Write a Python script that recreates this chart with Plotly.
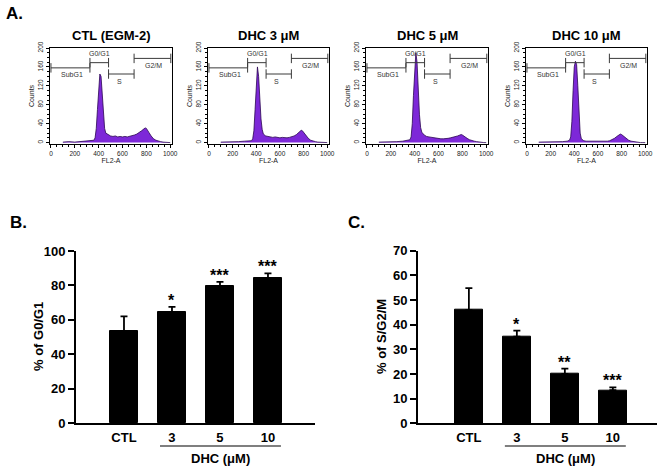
import plotly.graph_objects as go

# ---------------- Panel A data (flow cytometry histograms) ----------------
channels = [100, 150, 200, 250, 300, 340, 360, 370, 380, 390, 400, 410, 420, 430, 440,
            450, 460, 480, 500, 520, 540, 560, 580, 600, 620, 640, 660, 680, 700, 720,
            740, 760, 780, 790, 800, 810, 820, 840, 860, 880, 900, 920, 940, 960, 980, 1000]

hist_titles = ["CTL (EGM-2)", "DHC 3 μM", "DHC 5 μM", "DHC 10 μM"]

counts_ctl = [1, 2, 1, 2, 3, 3, 5, 10, 30, 70, 115, 145, 140, 95, 55,
              30, 20, 16, 14, 13, 14, 12, 13, 12, 13, 12, 13, 14, 16, 18,
              21, 25, 29, 31, 30, 27, 22, 14, 8, 5, 3, 2, 1, 1, 0, 0]
counts_dhc3 = [1, 1, 2, 2, 3, 3, 4, 8, 25, 70, 125, 160, 140, 90, 50,
               28, 18, 14, 13, 12, 11, 12, 11, 10, 11, 10, 10, 11, 12, 14,
               17, 21, 26, 25, 22, 18, 14, 9, 5, 3, 2, 1, 1, 0, 0, 0]
counts_dhc5 = [1, 1, 2, 2, 3, 4, 6, 12, 40, 100, 165, 190, 170, 110, 60,
               32, 22, 16, 13, 12, 11, 10, 9, 9, 8, 8, 8, 9, 10, 11,
               12, 14, 16, 17, 16, 14, 12, 9, 6, 4, 3, 2, 1, 0, 0, 0]
counts_dhc10 = [1, 1, 2, 2, 2, 3, 5, 12, 45, 110, 160, 172, 165, 120, 60,
                20, 8, 4, 3, 3, 3, 2, 2, 2, 2, 2, 3, 3, 4, 6,
                9, 13, 16, 18, 17, 15, 13, 8, 5, 3, 2, 1, 1, 0, 0, 0]
hist_counts = [counts_ctl, counts_dhc3, counts_dhc5, counts_dhc10]

gate_names = ["SubG1", "G0/G1", "S", "G2/M"]
gate_start = [0, 327, 483, 697]
gate_end = [327, 483, 697, 1005]
gate_level = [158, 169, 145, 178]
gate_label_x = [174, 409, 573, 858]
gate_label_y = [143, 189, 129, 164]

# ---------------- Panels B and C data ----------------
categories = ["CTL", "3", "5", "10"]
g0g1_mean = [53.5, 64.5, 79.5, 84.2]
g0g1_err = [8.5, 3.0, 2.5, 2.8]
g0g1_sig = ["", "*", "***", "***"]
sg2m_mean = [45.9, 35.1, 20.0, 13.4]
sg2m_err = [8.9, 2.5, 2.2, 1.2]
sg2m_sig = ["", "*", "**", "***"]

W, H = 660, 468
FONT = "Liberation Sans, Arial, sans-serif"

def px_x(p):
    return p / W

def px_y(p):
    return 1 - p / H

fig = go.Figure()

hist_dom_x = [(50, 172), (208, 329), (366, 488), (526, 647)]
hist_dom_y = (48, 144)

annotations = []
shapes = []

for i in range(4):
    xa = f"x{i+1}" if i > 0 else "x"
    ya = f"y{i+1}" if i > 0 else "y"
    fig.add_trace(go.Scatter(
        x=channels, y=hist_counts[i], mode="lines", fill="tozeroy",
        fillcolor="#7d28d8", line=dict(color="#2b0652", width=0.8),
        xaxis=xa, yaxis=ya, showlegend=False, hoverinfo="skip"))
    # gate markers
    gx, gy = [], []
    for s, e, lv in zip(gate_start, gate_end, gate_level):
        gx += [s, e, None, s, s, None, e, e, None]
        gy += [lv, lv, None, lv - 10, lv + 10, None, lv - 10, lv + 10, None]
    fig.add_trace(go.Scatter(
        x=gx, y=gy, mode="lines", line=dict(color="#3a3a3a", width=1),
        xaxis=xa, yaxis=ya, showlegend=False, hoverinfo="skip"))
    for name, lx, ly in zip(gate_names, gate_label_x, gate_label_y):
        annotations.append(dict(x=lx, y=ly, xref=xa, yref=ya, text=name, showarrow=False,
                                xanchor="center", yanchor="middle",
                                font=dict(family=FONT, size=7, color="#333333")))
    d0, d1 = hist_dom_x[i]
    axkey = "xaxis" if i == 0 else f"xaxis{i+1}"
    aykey = "yaxis" if i == 0 else f"yaxis{i+1}"
    fig.layout[axkey] = dict(
        domain=[px_x(d0), px_x(d1)], range=[-8, 1015], anchor=ya, automargin=False,
        showline=True, linecolor="black", linewidth=1, mirror=True,
        ticks="outside", ticklen=3, tickcolor="black", tickwidth=1,
        tickvals=[0, 200, 400, 600, 800, 1000],
        tickfont=dict(family=FONT, size=6.5, color="#222"),
        minor=dict(ticks="outside", ticklen=2, dtick=50, tickcolor="black"),
        showgrid=False, zeroline=False,
        title=dict(text="FL2-A", font=dict(family=FONT, size=7, color="#222"), standoff=0))
    fig.layout[aykey] = dict(
        domain=[px_y(hist_dom_y[1]), px_y(hist_dom_y[0])], range=[-3, 200], anchor=xa,
        automargin=False,
        showline=True, linecolor="black", linewidth=1, mirror=True,
        ticks="outside", ticklen=3, tickcolor="black", tickwidth=1,
        tickvals=[0, 40, 80, 120, 160, 200], tickangle=-90,
        tickfont=dict(family=FONT, size=6.5, color="#222"),
        minor=dict(ticks="outside", ticklen=2, dtick=10, tickcolor="black"),
        showgrid=False, zeroline=False,
        title=dict(text="Counts", font=dict(family=FONT, size=7, color="#222"), standoff=1))
    annotations.append(dict(x=px_x((d0 + d1) / 2), y=px_y(hist_dom_y[0] - 3),
                            xref="paper", yref="paper", text="<b>" + hist_titles[i] + "</b>",
                            showarrow=False, xanchor="center", yanchor="bottom",
                            font=dict(family=FONT, size=13, color="black")))

# ---------------- Bar panels ----------------
def bar_panel(idx, means, errs, sigs, xdom, ydom, yrange, dtick, xrange, ytitle, ytitle_x):
    xa, ya = f"x{idx}", f"y{idx}"
    fig.add_trace(go.Bar(
        x=list(range(len(categories))), y=means, width=0.58,
        marker=dict(color="black", line=dict(color="black", width=1)),
        error_y=dict(type="data", array=errs, arrayminus=[0] * len(errs), symmetric=False,
                     color="black", thickness=1.8, width=3.5),
        xaxis=xa, yaxis=ya, showlegend=False, hoverinfo="skip"))
    fig.layout[f"xaxis{idx}"] = dict(
        domain=[px_x(xdom[0]), px_x(xdom[1])], range=xrange, anchor=ya, automargin=False,
        showline=True, linecolor="black", linewidth=2,
        tickvals=list(range(len(categories))), ticktext=categories,
        ticks="outside", ticklen=1, tickcolor="rgba(0,0,0,0)",
        tickfont=dict(family=FONT, size=13, color="black", weight="bold"),
        showgrid=False, zeroline=False)
    fig.layout[f"yaxis{idx}"] = dict(
        domain=[px_y(ydom[1]), px_y(ydom[0])], range=yrange, anchor=xa, automargin=False,
        showline=True, linecolor="black", linewidth=2,
        ticks="outside", ticklen=6, tickwidth=2, tickcolor="black", dtick=dtick,
        tickfont=dict(family=FONT, size=13, color="black", weight="bold"),
        showgrid=False, zeroline=False)
    for i, (m, e, s) in enumerate(zip(means, errs, sigs)):
        if s:
            annotations.append(dict(x=i, y=m + e, xref=xa, yref=ya, text="<b>" + s + "</b>",
                                    showarrow=False, xanchor="center", yanchor="bottom",
                                    yshift=-4,
                                    font=dict(family=FONT, size=16, color="black")))
    shapes.append(dict(type="line", xref=xa, yref="paper", x0=0.75, x1=3.27,
                       y0=px_y(446), y1=px_y(446), line=dict(color="black", width=1.2)))
    annotations.append(dict(x=2.02, y=px_y(458), xref=xa, yref="paper",
                            text="<b>DHC (μM)</b>", showarrow=False,
                            xanchor="center", yanchor="middle",
                            font=dict(family=FONT, size=13, color="black")))
    annotations.append(dict(x=px_x(ytitle_x), y=px_y((ydom[0] + ydom[1]) / 2),
                            xref="paper", yref="paper", text="<b>" + ytitle + "</b>",
                            textangle=-90, showarrow=False,
                            xanchor="center", yanchor="middle",
                            font=dict(family=FONT, size=13, color="black")))

bar_panel(5, g0g1_mean, g0g1_err, g0g1_sig, (76, 315), (251, 423), [0, 100], 20,
          [-1.0, 3.98], "% of G0/G1", 38)
bar_panel(6, sg2m_mean, sg2m_err, sg2m_sig, (418, 657), (250.7, 423.3), [0, 70], 10,
          [-1.06, 3.92], "% of S/G2/M", 381)

for txt, x, y in [("A.", 4, 13), ("B.", 8, 222), ("C.", 346, 222)]:
    annotations.append(dict(x=px_x(x), y=px_y(y), xref="paper", yref="paper",
                            text="<b>" + txt + "</b>", showarrow=False,
                            xanchor="left", yanchor="middle",
                            font=dict(family=FONT, size=17, color="black")))

fig.update_layout(
    template="none",
    width=W, height=H, margin=dict(l=0, r=0, t=0, b=0, pad=0, autoexpand=False),
    paper_bgcolor="white", plot_bgcolor="white",
    annotations=annotations, shapes=shapes, bargap=0)

fig.write_html("out.html", config={"displayModeBar": False},
               post_script="document.body.style.margin='0';document.body.style.overflow='hidden';")
